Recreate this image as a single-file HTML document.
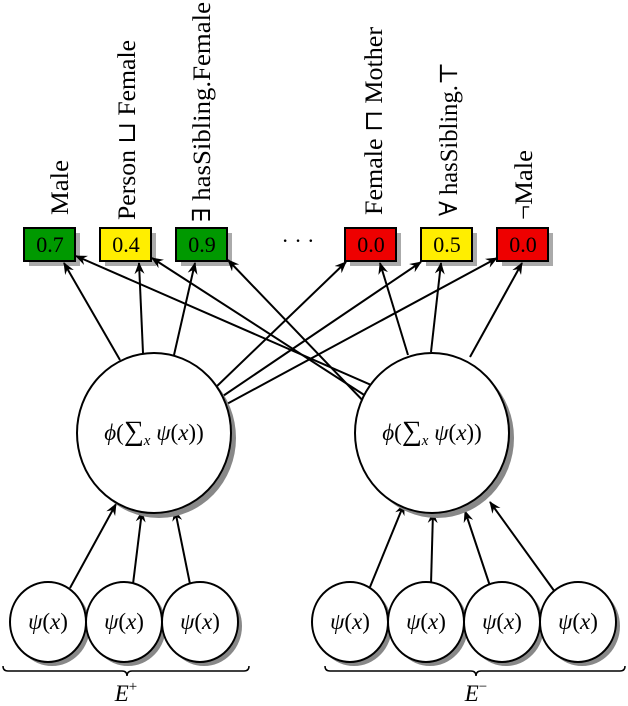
<!DOCTYPE html>
<html><head><style>body{margin:0;background:#fff}svg{display:block}text{font-family:"Liberation Serif","DejaVu Serif",serif}</style></head><body>
<svg width="628" height="706" viewBox="0 0 628 706" xmlns="http://www.w3.org/2000/svg">
<defs><marker id="a" markerWidth="12" markerHeight="10" refX="11" refY="5" orient="auto" markerUnits="userSpaceOnUse"><path d="M0,0 L12,5 L0,10 L4,5 Z" fill="#000"/></marker></defs>
<g fill="#aaa">
<rect x="29" y="233" width="51" height="33"/><rect x="105" y="233" width="51" height="33"/><rect x="181" y="233" width="51" height="33"/>
<rect x="350" y="233" width="51" height="33"/><rect x="426" y="233" width="51" height="33"/><rect x="502" y="233" width="51" height="33"/>
</g>
<g stroke="#000" stroke-width="2">
<rect x="24" y="228" width="51" height="33" fill="#009900"/><rect x="100" y="228" width="51" height="33" fill="#ffee00"/><rect x="176" y="228" width="51" height="33" fill="#009900"/>
<rect x="345" y="228" width="51" height="33" fill="#ee0000"/><rect x="421" y="228" width="51" height="33" fill="#ffee00"/><rect x="497" y="228" width="51" height="33" fill="#ee0000"/>
</g>
<g font-size="22" text-anchor="middle"><text x="50" y="252">0.7</text><text x="126" y="252">0.4</text><text x="202" y="252">0.9</text><text x="371" y="252">0.0</text><text x="447" y="252">0.5</text><text x="523" y="252">0.0</text><text x="298" y="248">· · ·</text></g>
<g font-size="25">
<text transform="translate(68,215) rotate(-90)" textLength="55" lengthAdjust="spacingAndGlyphs">Male</text>
<text transform="translate(135,220) rotate(-90)" textLength="180" lengthAdjust="spacingAndGlyphs">Person ⊔ Female</text>
<text transform="translate(210,222) rotate(-90)" textLength="220" lengthAdjust="spacingAndGlyphs">∃ hasSibling.Female</text>
<text transform="translate(382,215) rotate(-90)" textLength="188" lengthAdjust="spacingAndGlyphs">Female ⊓ Mother</text>
<text transform="translate(457,216) rotate(-90)" textLength="154" lengthAdjust="spacingAndGlyphs">∀ hasSibling.⊤</text>
<text transform="translate(532,220) rotate(-90)" textLength="70" lengthAdjust="spacingAndGlyphs">¬Male</text>
</g>
<g stroke="#000" stroke-width="2" marker-end="url(#a)">
<line x1="120" y1="360" x2="64" y2="263"/><line x1="143" y1="353" x2="139" y2="263"/><line x1="174" y1="355" x2="195" y2="263"/>
<line x1="215" y1="388" x2="346" y2="262"/><line x1="220" y1="398" x2="421" y2="262"/><line x1="225" y1="405" x2="497" y2="258"/>
<line x1="378" y1="388" x2="76" y2="256"/><line x1="372" y1="400" x2="152" y2="258"/><line x1="369" y1="407" x2="228" y2="260"/>
<line x1="408" y1="355" x2="380" y2="263"/><line x1="431" y1="352" x2="441" y2="263"/><line x1="470" y1="357" x2="522" y2="263"/>
<line x1="70" y1="588" x2="116" y2="504"/><line x1="133" y1="584" x2="142" y2="511"/><line x1="190" y1="584" x2="175" y2="510"/>
<line x1="370" y1="587" x2="404" y2="504"/><line x1="431" y1="584" x2="433" y2="512"/><line x1="490" y1="586" x2="465" y2="511"/><line x1="555" y1="592" x2="490" y2="502"/>
</g>
<g fill="#888"><ellipse cx="159" cy="438" rx="77" ry="80"/><ellipse cx="437" cy="438" rx="77" ry="80"/>
<ellipse cx="52" cy="626" rx="38" ry="40"/><ellipse cx="128" cy="626" rx="38" ry="40"/><ellipse cx="204" cy="626" rx="38" ry="40"/>
<ellipse cx="354" cy="626" rx="38" ry="40"/><ellipse cx="430" cy="626" rx="38" ry="40"/><ellipse cx="506" cy="626" rx="38" ry="40"/><ellipse cx="582" cy="626" rx="38" ry="40"/></g>
<g fill="#fff" stroke="#000" stroke-width="2"><ellipse cx="154" cy="433" rx="77" ry="80"/><ellipse cx="432" cy="433" rx="77" ry="80"/>
<ellipse cx="48" cy="622" rx="38" ry="40"/><ellipse cx="124" cy="622" rx="38" ry="40"/><ellipse cx="200" cy="622" rx="38" ry="40"/>
<ellipse cx="350" cy="622" rx="38" ry="40"/><ellipse cx="426" cy="622" rx="38" ry="40"/><ellipse cx="502" cy="622" rx="38" ry="40"/><ellipse cx="578" cy="622" rx="38" ry="40"/></g>
<g font-size="23" text-anchor="middle" font-style="italic">
<text x="154" y="440">ϕ<tspan font-style="normal">(</tspan><tspan font-style="normal" font-size="28">∑</tspan><tspan font-size="15" dy="5">x</tspan><tspan dy="-5"> ψ</tspan><tspan font-style="normal">(</tspan>x<tspan font-style="normal">))</tspan></text>
<text x="432" y="440">ϕ<tspan font-style="normal">(</tspan><tspan font-style="normal" font-size="28">∑</tspan><tspan font-size="15" dy="5">x</tspan><tspan dy="-5"> ψ</tspan><tspan font-style="normal">(</tspan>x<tspan font-style="normal">))</tspan></text>
<text x="48" y="629">ψ<tspan font-style="normal">(</tspan>x<tspan font-style="normal">)</tspan></text><text x="124" y="629">ψ<tspan font-style="normal">(</tspan>x<tspan font-style="normal">)</tspan></text><text x="200" y="629">ψ<tspan font-style="normal">(</tspan>x<tspan font-style="normal">)</tspan></text>
<text x="350" y="629">ψ<tspan font-style="normal">(</tspan>x<tspan font-style="normal">)</tspan></text><text x="426" y="629">ψ<tspan font-style="normal">(</tspan>x<tspan font-style="normal">)</tspan></text><text x="502" y="629">ψ<tspan font-style="normal">(</tspan>x<tspan font-style="normal">)</tspan></text><text x="578" y="629">ψ<tspan font-style="normal">(</tspan>x<tspan font-style="normal">)</tspan></text>
<text x="126" y="701">E<tspan font-style="normal" font-size="15" dy="-10">+</tspan></text>
<text x="476" y="701">E<tspan font-style="normal" font-size="15" dy="-10">−</tspan></text>
</g>
<g fill="none" stroke="#000" stroke-width="1.5">
<path d="M3,666 Q3,671 8,671 L122,671 Q127,671 127,676 Q127,671 132,671 L244,671 Q249,671 249,666"/>
<path d="M325,666 Q325,671 330,671 L471,671 Q476,671 476,676 Q476,671 481,671 L620,671 Q625,671 625,666"/>
</g>
</svg>
</body></html>
